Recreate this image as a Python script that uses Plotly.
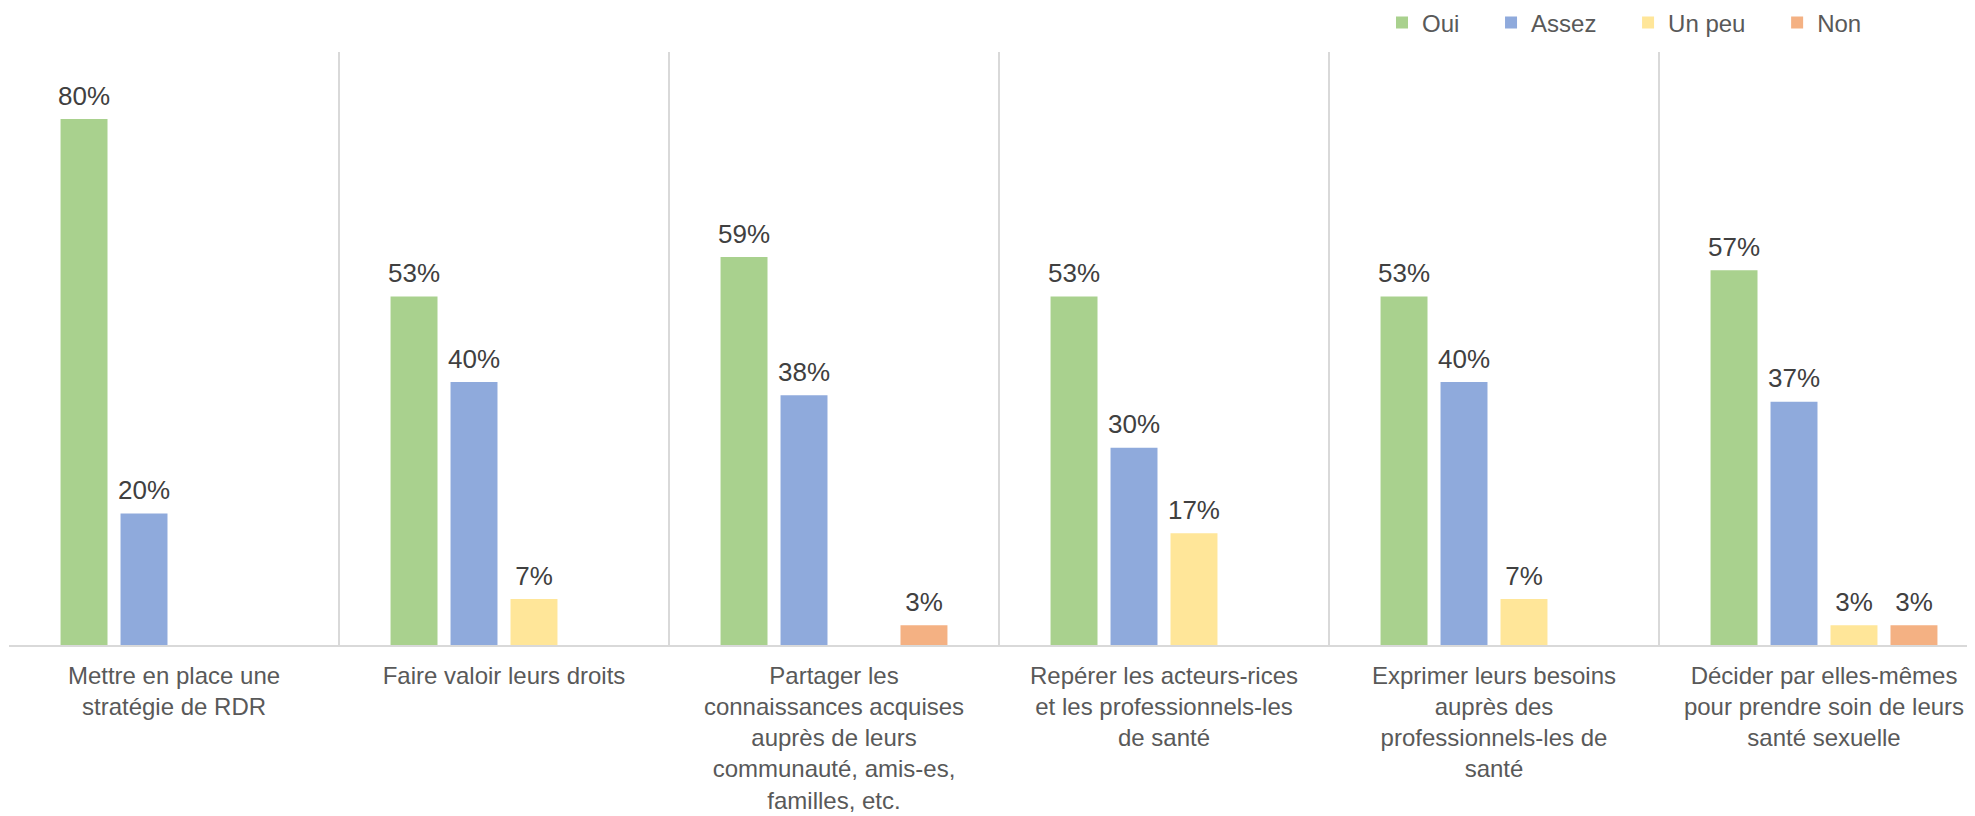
import plotly.graph_objects as go

# categories (x axis), multi-line as in the original
categories = [
    "Mettre en place une<br>stratégie de RDR",
    "Faire valoir leurs droits",
    "Partager les<br>connaissances acquises<br>auprès de leurs<br>communauté, amis-es,<br>familles, etc.",
    "Repérer les acteurs-rices<br>et les professionnels-les<br>de santé",
    "Exprimer leurs besoins<br>auprès des<br>professionnels-les de<br>santé",
    "Décider par elles-mêmes<br>pour prendre soin de leurs<br>santé sexuelle",
]

# series values (%), None = no bar
oui = [80, 53, 59, 53, 53, 57]
assez = [20, 40, 38, 30, 40, 37]
un_peu = [None, 7, None, 17, 7, 3]
non = [None, None, 3, None, None, 3]

series = [
    ("Oui", oui, "#A9D18E"),
    ("Assez", assez, "#8FAADC"),
    ("Un peu", un_peu, "#FFE699"),
    ("Non", non, "#F4B183"),
]

font_family = "Arial, Liberation Sans, sans-serif"
pad = "\u00a0" * 4  # extra room between legend entries

fig = go.Figure()
for name, values, color in series:
    fig.add_trace(go.Bar(
        x=categories,
        y=values,
        name=name + pad,
        marker_color=color,
        marker_line_width=0,
        hoverinfo="skip",
    ))

# value labels, a little above each bar (invisible marker gives the gap)
for name, values, color in series:
    fig.add_trace(go.Scatter(
        x=categories,
        y=values,
        mode="markers+text",
        text=[f"{v}%" if v is not None else "" for v in values],
        textposition="top center",
        textfont=dict(size=26, color="#404040", family=font_family),
        marker=dict(size=11, color="rgba(0,0,0,0)"),
        showlegend=False,
        hoverinfo="skip",
        cliponaxis=False,
    ))

fig.update_layout(
    width=1975,
    height=816,
    barmode="group",
    scattermode="group",
    bargap=0.273,
    bargroupgap=0.217,
    scattergap=0.273,
    plot_bgcolor="white",
    paper_bgcolor="white",
    margin=dict(l=1, r=0, t=44, b=179),
    font=dict(family=font_family, color="#595959"),
    legend=dict(
        orientation="h",
        xref="container",
        yref="container",
        x=1374 / 1975,
        xanchor="left",
        y=1 - 15 / 816,
        yanchor="middle",
        font=dict(size=24, color="#595959"),
        bgcolor="rgba(0,0,0,0)",
    ),
)

# category gridlines sit on the boundaries between groups
fig.update_xaxes(
    type="category",
    range=[-0.5, -0.5 + 1974 / 330],
    tickson="boundaries",
    showgrid=True,
    gridcolor="#D9D9D9",
    gridwidth=1.5,
    showline=True,
    linecolor="#D9D9D9",
    linewidth=2,
    ticks="",
    ticklabelstandoff=8,
    tickfont=dict(size=24, color="#595959"),
    automargin=False,
)
fig.update_yaxes(
    range=[0, 90.2],
    showgrid=False,
    showticklabels=False,
    zeroline=False,
    showline=False,
)

fig.write_html("out.html")
